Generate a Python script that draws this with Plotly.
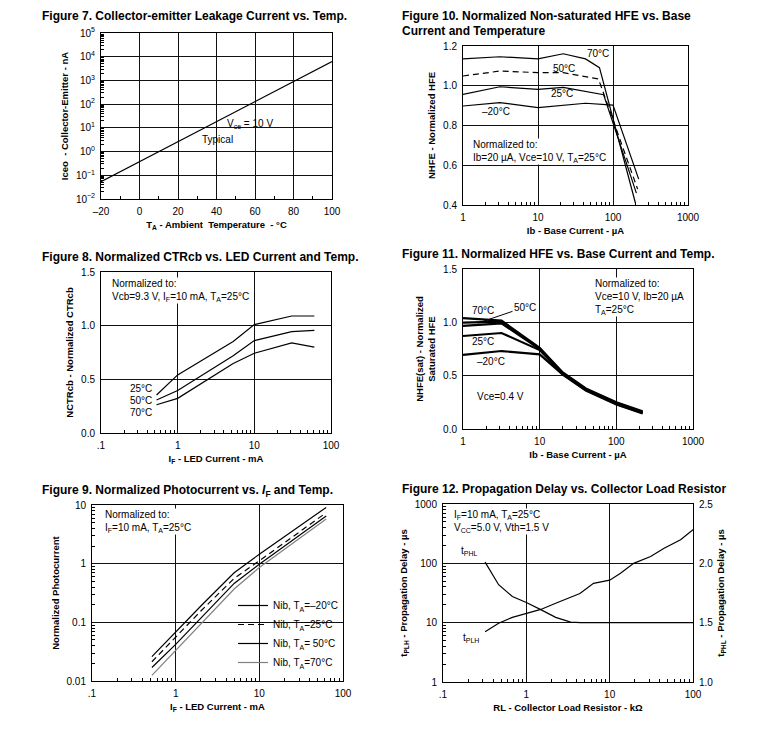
import math
import plotly.graph_objects as go

W, H = 765, 733
FONT = "Liberation Sans, Arial, Helvetica, sans-serif"
SP = "\u00a0"

# ---------------- data ----------------
# Figure 7
f7_temp = [-20, 100]
f7_iceo = [0.054, 6200]

# Figure 10
f10_x_70 = [1, 3.1, 10, 21.7, 43, 66, 199]
f10_y_70 = [1.135, 1.146, 1.135, 1.161, 1.135, 1.091, 0.41]
f10_x_50 = [1, 3.1, 10, 21.7, 64, 213]
f10_y_50 = [1.049, 1.074, 1.066, 1.066, 1.034, 0.48]
f10_x_25 = [1, 3.1, 10, 21.7, 75, 205]
f10_y_25 = [0.957, 0.995, 0.982, 0.992, 0.955, 0.46]
f10_x_m20 = [1, 3.1, 10, 43, 100, 220]
f10_y_m20 = [0.898, 0.915, 0.89, 0.912, 0.903, 0.53]

# Figure 8
f8_if = [0.53, 1, 5.3, 10, 30.7, 60.7]
f8_25 = [0.354, 0.541, 0.852, 1.01, 1.09, 1.09]
f8_50 = [0.307, 0.396, 0.719, 0.861, 0.944, 0.956]
f8_70 = [0.263, 0.323, 0.648, 0.743, 0.84, 0.80]

# Figure 11
f11_ib = [1, 3.18, 10, 20, 40, 100, 220]
f11_70 = [1.04, 1.016, 0.76, 0.53, 0.38, 0.25, 0.165]
f11_50 = [0.997, 1.006, 0.755, 0.525, 0.375, 0.245, 0.16]
f11_0 = [0.966, 0.99, 0.75, 0.52, 0.37, 0.24, 0.155]
f11_25 = [0.872, 0.90, 0.74, 0.515, 0.365, 0.235, 0.15]
f11_m20 = [0.694, 0.731, 0.70, 0.51, 0.36, 0.23, 0.145]

# Figure 9
f9_if = [0.52, 1, 2, 5, 10, 63]
f9_m20 = [0.026, 0.068, 0.19, 0.70, 1.45, 9.1]
f9_25 = [0.0213, 0.056, 0.156, 0.56, 1.12, 7.4]
f9_50 = [0.017, 0.042, 0.118, 0.46, 0.98, 6.5]
f9_70 = [0.0125, 0.033, 0.093, 0.37, 0.86, 5.75]
f9_names = ["Nib, T<sub>A</sub>=–20°C", "Nib, T<sub>A</sub>=25°C",
            "Nib, T<sub>A</sub>= 50°C", "Nib, T<sub>A</sub>=70°C"]

# Figure 12
f12_rl_plh = [0.32, 0.465, 0.68, 1, 1.49, 2.25, 4.4, 6.4, 10, 13.5, 19.4, 31, 45, 71, 100]
f12_tplh = [7.0, 9.8, 12.3, 14.4, 16.7, 21.3, 31, 46, 52, 68, 100, 130, 180, 250, 370]
f12_rl_phl = [0.32, 0.465, 0.68, 1, 1.49, 2.25, 3.4, 4.5, 10, 100]
f12_tphl = [2.01, 1.82, 1.72, 1.67, 1.61, 1.545, 1.505, 1.5, 1.5, 1.5]

# ---------------- helpers ----------------
TICK_SIZE = 10
TITLE_SIZE = 9.5
ANN_SIZE = 10


def dom(x0, x1, y0, y1):
    return [x0 / W, x1 / W], [1 - y1 / H, 1 - y0 / H]


def log_minor(lo, hi):
    return [m * 10 ** e for e in range(lo, hi) for m in range(2, 10)]


def axis(domain, anchor, rng, typ, tickvals, ticktext, title, minor_vals=None,
         showgrid=True, **kw):
    d = dict(domain=domain, anchor=anchor, range=rng, type=typ,
             tickmode="array", tickvals=tickvals, ticktext=ticktext,
             showline=True, linecolor="black", linewidth=1, mirror=True,
             showgrid=showgrid, gridcolor="#111", gridwidth=1, zeroline=False,
             ticks="outside", ticklen=3, tickcolor="white", automargin=False,
             tickfont=dict(family=FONT, size=TICK_SIZE, color="black"),
             title=dict(text=title, font=dict(family=FONT, size=TITLE_SIZE, color="black"),
                        standoff=5))
    if minor_vals:
        d["minor"] = dict(tickvals=minor_vals, ticks="inside", ticklen=3,
                          tickcolor="black", tickwidth=1, showgrid=False)
    d.update(kw)
    return d


fig = go.Figure()
LINE = dict(color="black", width=1.2)

# Fig 7
fig.add_trace(go.Scatter(x=f7_temp, y=f7_iceo, mode="lines", line=LINE,
                         xaxis="x", yaxis="y", showlegend=False))
# Fig 10
for xs, ys, dash in [(f10_x_70, f10_y_70, "solid"), (f10_x_50, f10_y_50, "6px,4px"),
                     (f10_x_25, f10_y_25, "solid"), (f10_x_m20, f10_y_m20, "solid")]:
    fig.add_trace(go.Scatter(x=xs, y=ys, mode="lines",
                             line=dict(color="black", width=1.2, dash=dash),
                             xaxis="x2", yaxis="y2", showlegend=False))
# Fig 8
for ys in [f8_25, f8_50, f8_70]:
    fig.add_trace(go.Scatter(x=f8_if, y=ys, mode="lines", line=LINE,
                             xaxis="x3", yaxis="y3", showlegend=False))
# Fig 11
for ys in [f11_70, f11_50, f11_0, f11_25, f11_m20]:
    fig.add_trace(go.Scatter(x=f11_ib, y=ys, mode="lines",
                             line=dict(color="black", width=2.2),
                             xaxis="x4", yaxis="y4", showlegend=False))
# Fig 9
for ys, name, col, dash in [(f9_m20, f9_names[0], "black", "solid"),
                            (f9_25, f9_names[1], "black", "6px,4px"),
                            (f9_50, f9_names[2], "black", "solid"),
                            (f9_70, f9_names[3], "#808080", "solid")]:
    fig.add_trace(go.Scatter(x=f9_if, y=ys, mode="lines", name=name,
                             line=dict(color=col, width=1.2, dash=dash),
                             xaxis="x5", yaxis="y5", showlegend=True))
# Fig 12
fig.add_trace(go.Scatter(x=f12_rl_plh, y=f12_tplh, mode="lines", line=LINE,
                         xaxis="x6", yaxis="y6", showlegend=False))
fig.add_trace(go.Scatter(x=f12_rl_phl, y=f12_tphl, mode="lines", line=LINE,
                         xaxis="x6", yaxis="y7", showlegend=False))

# ---------------- axes ----------------
d1x, d1y = dom(101, 332, 33, 199)
d2x, d2y = dom(463, 688, 46, 205)
d3x, d3y = dom(101, 331, 272, 433)
d4x, d4y = dom(463, 693, 269, 429)
d5x, d5y = dom(92, 343, 505, 681)
d6x, d6y = dom(443, 693, 504, 682)

dec = lambda a, b: [10 ** e for e in range(a, b + 1)]

lay = dict(
    xaxis=axis(d1x, "y", [-20, 100], "linear", [-20, 0, 20, 40, 60, 80, 100],
               ["–20", "0", "20", "40", "60", "80", "100"],
               f"<b>T<sub>A</sub> - Ambient {SP}Temperature {SP}- °C</b>",
               minor_vals=[-10, 10, 30, 50, 70, 90]),
    yaxis=axis(d1y, "x", [-2, 5], "log", dec(-2, 5),
               ["10<sup>−2</sup>", "10<sup>−1</sup>", "10<sup>0</sup>", "10<sup>1</sup>",
                "10<sup>2</sup>", "10<sup>3</sup>", "10<sup>4</sup>", "10<sup>5</sup>"],
               f"<b>Iceo {SP}- Collector-Emitter - nA</b>", minor_vals=log_minor(-2, 5)),
    xaxis2=axis(d2x, "y2", [0, 3], "log", dec(0, 3), ["1", "10", "100", "1000"],
                "<b>Ib - Base Current - µA</b>", minor_vals=log_minor(0, 3)),
    yaxis2=axis(d2y, "x2", [0.4, 1.2], "linear", [0.4, 0.6, 0.8, 1.0, 1.2],
                ["0.4", "0.6", "0.8", "1.0", "1.2"], "<b>NHFE - Normalized HFE</b>"),
    xaxis3=axis(d3x, "y3", [-1, 2], "log", dec(-1, 2), [".1", "1", "10", "100"],
                "<b>I<sub>F</sub> - LED Current - mA</b>", minor_vals=log_minor(-1, 2)),
    yaxis3=axis(d3y, "x3", [0, 1.5], "linear", [0, 0.5, 1.0, 1.5],
                ["0.0", "0.5", "1.0", "1.5"], "<b>NCTRcb - Normalized CTRcb</b>"),
    xaxis4=axis(d4x, "y4", [0, 3], "log", dec(0, 3), ["1", "10", "100", "1000"],
                "<b>Ib - Base Current - µA</b>", minor_vals=log_minor(0, 3)),
    yaxis4=axis(d4y, "x4", [0, 1.5], "linear", [0, 0.5, 1.0, 1.5],
                ["0.0", "0.5", "1.0", "1.5"],
                "<b>NHFE(sat) - Normalized<br>Saturated HFE</b>"),
    xaxis5=axis(d5x, "y5", [-1, 2], "log", dec(-1, 2), [".1", "1", "10", "100"],
                "<b>I<sub>F</sub> - LED Current - mA</b>", minor_vals=log_minor(-1, 2)),
    yaxis5=axis(d5y, "x5", [-2, 1], "log", dec(-2, 1), ["0.01", "0.1", "1", "10"],
                "<b>Normalized Photocurrent</b>", minor_vals=log_minor(-2, 1)),
    xaxis6=axis(d6x, "y6", [-1, 2], "log", dec(-1, 2), [".1", "1", "10", "100"],
                "<b>RL - Collector Load Resistor - kΩ</b>", minor_vals=log_minor(-1, 2)),
    yaxis6=axis(d6y, "x6", [0, 3], "log", dec(0, 3), ["1", "10", "100", "1000"],
                "<b>t<sub>PLH</sub> - Propagation Delay - µs</b>", minor_vals=log_minor(0, 3)),
    yaxis7=axis(d6y, "x6", [1.0, 2.5], "linear", [1.0, 1.5, 2.0, 2.5],
                ["1.0", "1.5", "2.0", "2.5"],
                "<b>t<sub>PHL</sub> - Propagation Delay - µs</b>", showgrid=False,
                overlaying="y6", side="right", mirror=False),
)

# ---------------- annotations ----------------
ann = []


def title(text, x, y):
    ann.append(dict(text="<b>" + text + "</b>", x=x / W, y=1 - y / H, xref="paper",
                    yref="paper", xanchor="left", yanchor="middle", showarrow=False,
                    align="left", font=dict(family=FONT, size=12, color="black")))


title("Figure 7. Collector-emitter Leakage Current vs. Temp.", 40, 16)
title("Figure 10. Normalized Non-saturated HFE vs. Base", 400, 16)
title("Current and Temperature", 400, 31)
title("Figure 8. Normalized CTRcb vs. LED Current and Temp.", 40, 257)
title("Figure 11. Normalized HFE vs. Base Current and Temp.", 400, 254)
title("Figure 9. Normalized Photocurrent vs. <i>I</i><sub>F</sub> and Temp.", 40, 491)
title("Figure 12. Propagation Delay vs. Collector Load Resistor", 400, 489)


def lab(text, x, y, xr, yr, xa="center", ya="middle", bg=None, size=ANN_SIZE):
    d = dict(text=text, x=x, y=y, xref=xr, yref=yr, xanchor=xa, yanchor=ya,
             showarrow=False, align="left", borderpad=0,
             font=dict(family=FONT, size=size, color="black"))
    if bg:
        d["bgcolor"] = bg
    ann.append(d)


L = math.log10
# Fig 7
lab("V<sub>ce</sub> = 10 V", 45, 1.16, "x", "y", xa="left")
lab("Typical", 32, 0.49, "x", "y", xa="left")
# Fig 10
lab("70°C", L(63), 1.16, "x2", "y2")
lab("50°C", L(22.4), 1.085, "x2", "y2")
lab("25°C", L(21), 0.96, "x2", "y2")
lab("–20°C", L(2.75), 0.87, "x2", "y2")
lab("Normalized to:<br>Ib=20 µA, Vce=10 V, T<sub>A</sub>=25°C", L(1.33), 0.735, "x2", "y2",
    xa="left", ya="top", bg="white")
# Fig 8
lab("Normalized to:<br>Vcb=9.3 V, I<sub>F</sub>=10 mA, T<sub>A</sub>=25°C", L(0.134), 1.45,
    "x3", "y3", xa="left", ya="top", bg="white")
lab("25°C", L(0.47), 0.41, "x3", "y3", xa="right")
lab("50°C", L(0.47), 0.30, "x3", "y3", xa="right")
lab("70°C", L(0.47), 0.19, "x3", "y3", xa="right")
# Fig 11
lab("70°C", L(1.81), 1.109, "x4", "y4")
ann.append(dict(text="50°C", x=L(1.57), y=0.993, xref="x4", yref="y4", showarrow=True,
                arrowhead=0, arrowwidth=1, arrowcolor="black", ax=47, ay=-16, standoff=0,
                font=dict(family=FONT, size=ANN_SIZE, color="black")))
lab("25°C", L(1.81), 0.818, "x4", "y4")
lab("–20°C", L(2.35), 0.631, "x4", "y4")
lab("Vce=0.4 V", L(1.5), 0.303, "x4", "y4", xa="left")
lab("Normalized to:<br>Vce=10 V, Ib=20 µA<br>T<sub>A</sub>=25°C", L(51), 1.425, "x4", "y4",
    xa="left", ya="top", bg="white")
# Fig 9
lab("Normalized to:<br>I<sub>F</sub>=10 mA, T<sub>A</sub>=25°C", L(0.138), 0.95, "x5", "y5",
    xa="left", ya="top", bg="white")
# Fig 12
lab("I<sub>F</sub>=10 mA, T<sub>A</sub>=25°C<br>V<sub>CC</sub>=5.0 V, Vth=1.5 V", L(0.132), 2.94,
    "x6", "y6", xa="left", ya="top", bg="white")
lab("t<sub>PHL</sub>", L(0.207), 2.2, "x6", "y6")
lab("t<sub>PLH</sub>", L(0.214), 0.734, "x6", "y6")

fig.update_layout(
    **lay,
    annotations=ann,
    width=W, height=H,
    margin=dict(l=0, r=0, t=0, b=0, autoexpand=False),
    paper_bgcolor="white", plot_bgcolor="white",
    font=dict(family=FONT, size=10, color="black"),
    legend=dict(x=233 / W, y=1 - 677 / H, xanchor="left", yanchor="bottom",
                bgcolor="rgba(0,0,0,0)", font=dict(family=FONT, size=10, color="black"),
                tracegroupgap=0, itemwidth=30),
)

fig.write_html("out.html", config={"displayModeBar": False},
               post_script="document.body.style.margin='0px';"
                           "document.body.style.overflow='hidden';")
